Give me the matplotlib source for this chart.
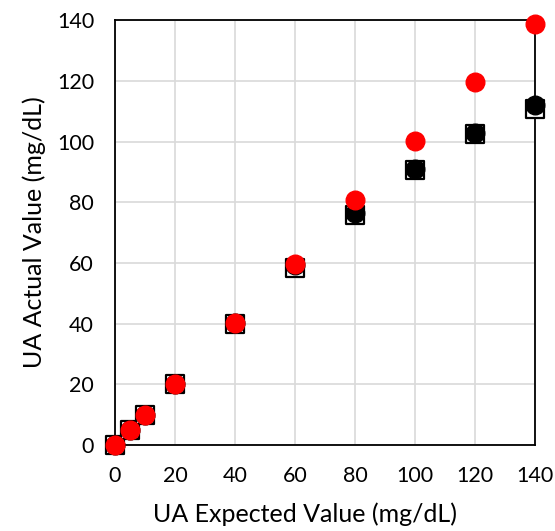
import matplotlib.pyplot as plt

plt.rcParams['font.family'] = ['Lato', 'DejaVu Sans']

expected = [0, 5, 10, 20, 40, 60, 80, 100, 120, 140]
actual_square = [0, 4.8, 9.8, 20, 40, 58.3, 75.7, 90.7, 102.4, 110.7]
actual_black = [0, 4.9, 9.9, 20, 40.2, 59.4, 76.5, 90.8, 102.8, 111.9]
actual_red = [0, 4.8, 9.8, 20.1, 40.3, 59.8, 80.7, 100.2, 119.6, 138.6]

fig = plt.figure(figsize=(5.55, 5.31), dpi=100)
ax = fig.add_axes([0.207, 0.162, 0.757, 0.8])

ax.scatter(expected, actual_square, marker='s', s=160, facecolor='white',
           edgecolor='black', linewidth=1.6, zorder=3, clip_on=False)
ax.scatter(expected, actual_black, marker='o', s=180, color='black',
           zorder=4, clip_on=False)
ax.scatter(expected, actual_red, marker='o', s=180, color='#ff0000',
           zorder=5, clip_on=False)

ax.set_xlim(0, 140)
ax.set_ylim(0, 140)
ax.set_xticks(range(0, 141, 20))
ax.set_yticks(range(0, 141, 20))
ax.grid(True, color='#d9d9d9', linewidth=1.2)
ax.set_axisbelow(True)
for s in ax.spines.values():
    s.set_linewidth(1.3)
    s.set_color('black')
ax.tick_params(length=0, labelsize=15.5, pad=15)

ax.set_xlabel('UA Expected Value (mg/dL)', fontsize=18)
ax.set_ylabel('UA Actual Value (mg/dL)', fontsize=18, labelpad=8)
# excel puts the x title a bit left of the plot centre
ax.xaxis.set_label_coords(0.452, -0.135)

fig.savefig('out.png', dpi=100)
